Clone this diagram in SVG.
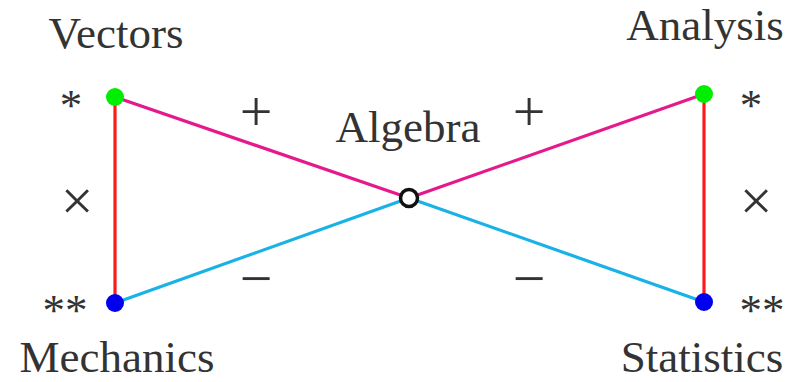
<svg xmlns="http://www.w3.org/2000/svg" width="796" height="382" viewBox="0 0 796 382">
<style>
text{font-family:"Liberation Serif","DejaVu Serif",serif;fill:#333;}
.lbl{font-size:45px;text-anchor:middle;}
.sym{font-size:58px;text-anchor:middle;}
.ast{font-size:45px;text-anchor:middle;}
.mag{stroke:#e6198c;stroke-width:3.2;fill:none;}
.cy{stroke:#19b2e6;stroke-width:3.2;fill:none;}
.red{stroke:#ff1a1a;stroke-width:3.2;fill:none;}
.g{fill:#00ee00;}
.b{fill:#0000ee;}
</style>
<rect width="796" height="382" fill="#fff"/>
<g id="connectors">
<line class="red" x1="115" y1="97" x2="115" y2="303"/>
<line class="red" x1="704" y1="94" x2="704" y2="302"/>
<line class="mag" x1="115" y1="97" x2="409" y2="198"/>
<line class="mag" x1="409" y1="198" x2="704" y2="94"/>
<line class="cy" x1="115" y1="303" x2="409" y2="198"/>
<line class="cy" x1="409" y1="198" x2="704" y2="302"/>
</g>
<g id="vectors"><circle class="g" cx="115" cy="97" r="9"/><text class="lbl" x="116" y="48">Vectors</text></g>
<g id="analysis"><circle class="g" cx="704" cy="94" r="9"/><text class="lbl" x="705" y="40">Analysis</text></g>
<g id="mechanics"><circle class="b" cx="115" cy="303" r="9"/><text class="lbl" x="117" y="372">Mechanics</text></g>
<g id="statistics"><circle class="b" cx="704" cy="302" r="9"/><text class="lbl" x="702" y="372">Statistics</text></g>
<g id="algebra"><circle cx="409" cy="198" r="8.5" fill="#fff" stroke="#111" stroke-width="3.5"/><text class="lbl" x="408" y="142">Algebra</text></g>
<g id="symbols">
<text class="ast" x="71" y="120">*</text>
<text class="ast" x="751" y="120">*</text>
<text class="ast" x="65" y="325">**</text>
<text class="ast" x="762" y="325">**</text>
<text class="sym" x="77" y="220">×</text>
<text class="sym" x="756" y="220">×</text>
<text class="sym" x="256" y="131">+</text>
<text class="sym" x="529" y="131">+</text>
<text class="sym" x="256" y="298">−</text>
<text class="sym" x="529" y="298">−</text>
</g>
</svg>
